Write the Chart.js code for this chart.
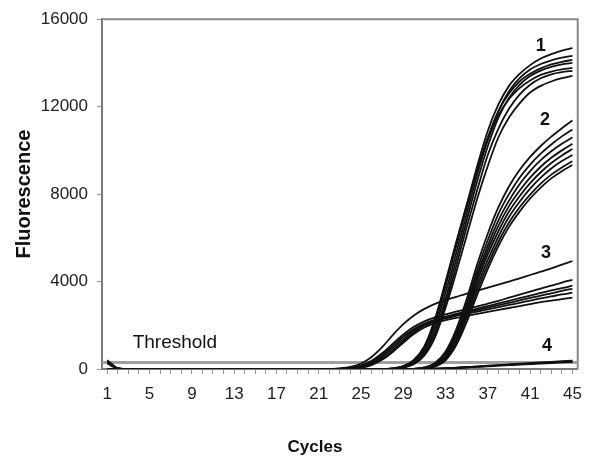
<!DOCTYPE html>
<html>
<head>
<meta charset="utf-8">
<script src="https://cdn.jsdelivr.net/npm/chart.js@4.4.1/dist/chart.umd.min.js"></script>
<style>
  html, body { margin: 0; padding: 0; background: #fff; }
  #wrap { width: 592px; height: 461px; }
</style>
</head>
<body>
<div id="wrap"><canvas id="grafico"></canvas></div>
<script>
// Ciclos e marcas do eixo X
const cycles = [1,2,3,4,5,6,7,8,9,10,11,12,13,14,15,16,17,18,19,20,21,22,23,24,25,26,27,28,29,30,31,32,33,34,35,36,37,38,39,40,41,42,43,44,45];
const xTickLabels = [1,5,9,13,17,21,25,29,33,37,41,45];
const yTicks = [0, 4000, 8000, 12000, 16000];
const threshold = 300;

// Grupo 1 (curvas mais altas)
const group1 = [
  [400,40,0,0,0, 0,0,0,0,0, 0,0,0,0,0, 0,0,0,0,0, 0,0,0,0,0, 0,0,30,120,400, 1000,2200,3900,5700,7500, 9300,10900,12100,12950,13500, 13900,14200,14400,14560,14680],
  [300,30,0,0,0, 0,0,0,0,0, 0,0,0,0,0, 0,0,0,0,0, 0,0,0,0,0, 0,0,20,100,330, 850,1900,3500,5300,7100, 8900,10500,11800,12700,13300, 13700,13950,14120,14240,14320],
  [0,0,0,0,0, 0,0,0,0,0, 0,0,0,0,0, 0,0,0,0,0, 0,0,0,0,0, 0,0,20,110,380, 950,2100,3800,5600,7400, 9100,10600,11800,12600,13150, 13500,13750,13930,14050,14140],
  [250,20,0,0,0, 0,0,0,0,0, 0,0,0,0,0, 0,0,0,0,0, 0,0,0,0,0, 0,0,10,80,280, 750,1700,3200,5000,6800, 8600,10200,11500,12400,13000, 13400,13650,13820,13930,14000],
  [0,0,0,0,0, 0,0,0,0,0, 0,0,0,0,0, 0,0,0,0,0, 0,0,0,0,0, 0,0,30,130,420, 1050,2300,4000,5800,7500, 9100,10500,11600,12350,12850, 13200,13450,13600,13700,13770],
  [0,0,0,0,0, 0,0,0,0,0, 0,0,0,0,0, 0,0,0,0,0, 0,0,0,0,0, 0,0,10,70,250, 700,1600,3000,4700,6500, 8200,9800,11000,11900,12550, 13000,13300,13480,13580,13640],
  [0,0,0,0,0, 0,0,0,0,0, 0,0,0,0,0, 0,0,0,0,0, 0,0,0,0,0, 0,0,10,60,220, 620,1450,2800,4400,6100, 7800,9300,10600,11500,12150, 12650,12950,13150,13300,13410]
];

// Grupo 2
const group2 = [
  [350,30,0,0,0, 0,0,0,0,0, 0,0,0,0,0, 0,0,0,0,0, 0,0,0,0,0, 0,0,0,0,10, 70,280,800,1800,3200, 4800,6200,7400,8350,9100, 9700,10200,10630,11010,11370],
  [0,0,0,0,0, 0,0,0,0,0, 0,0,0,0,0, 0,0,0,0,0, 0,0,0,0,0, 0,0,0,0,10, 60,240,700,1650,3000, 4550,5900,7100,8000,8750, 9350,9850,10270,10640,10960],
  [0,0,0,0,0, 0,0,0,0,0, 0,0,0,0,0, 0,0,0,0,0, 0,0,0,0,0, 0,0,0,0,0, 50,200,640,1550,2850, 4350,5650,6800,7700,8450, 9050,9550,9960,10300,10600],
  [0,0,0,0,0, 0,0,0,0,0, 0,0,0,0,0, 0,0,0,0,0, 0,0,0,0,0, 0,0,0,0,0, 40,180,600,1450,2750, 4200,5450,6550,7450,8150, 8750,9250,9660,10000,10300],
  [0,0,0,0,0, 0,0,0,0,0, 0,0,0,0,0, 0,0,0,0,0, 0,0,0,0,0, 0,0,0,0,0, 40,160,540,1350,2600, 4000,5250,6300,7200,7900, 8500,9000,9420,9770,10060],
  [0,0,0,0,0, 0,0,0,0,0, 0,0,0,0,0, 0,0,0,0,0, 0,0,0,0,0, 0,0,0,0,0, 30,150,500,1280,2480, 3800,5000,6050,6950,7650, 8250,8750,9170,9510,9790],
  [0,0,0,0,0, 0,0,0,0,0, 0,0,0,0,0, 0,0,0,0,0, 0,0,0,0,0, 0,0,0,0,0, 30,130,460,1180,2320, 3600,4780,5820,6700,7400, 7980,8480,8890,9220,9500],
  [0,0,0,0,0, 0,0,0,0,0, 0,0,0,0,0, 0,0,0,0,0, 0,0,0,0,0, 0,0,0,0,0, 20,110,400,1080,2150, 3400,4580,5620,6500,7200, 7800,8300,8720,9050,9330]
];

// Grupo 3 (sobe cedo, platô baixo)
const group3 = [
  [0,0,0,0,0, 0,0,0,0,0, 0,0,0,0,0, 0,0,0,0,0, 0,0,30,100,250, 550,1000,1550,2050,2450, 2750,2980,3150,3300,3450, 3580,3720,3860,4000,4150, 4300,4450,4600,4770,4940],
  [0,0,0,0,0, 0,0,0,0,0, 0,0,0,0,0, 0,0,0,0,0, 0,0,20,60,170, 380,720,1150,1580,1930, 2180,2360,2500,2620,2740, 2860,2990,3120,3260,3400, 3540,3680,3810,3950,4080],
  [0,0,0,0,0, 0,0,0,0,0, 0,0,0,0,0, 0,0,0,0,0, 0,0,10,40,130, 320,640,1050,1480,1830, 2080,2260,2400,2520,2640, 2760,2880,3000,3120,3240, 3360,3480,3600,3700,3810],
  [0,0,0,0,0, 0,0,0,0,0, 0,0,0,0,0, 0,0,0,0,0, 0,0,10,30,100, 260,560,950,1380,1760, 2040,2230,2370,2480,2590, 2700,2810,2920,3030,3140, 3250,3360,3460,3570,3670],
  [0,0,0,0,0, 0,0,0,0,0, 0,0,0,0,0, 0,0,0,0,0, 0,0,0,20,80, 220,480,850,1280,1680, 1980,2180,2320,2430,2530, 2630,2730,2830,2930,3030, 3130,3230,3320,3410,3490],
  [0,0,0,0,0, 0,0,0,0,0, 0,0,0,0,0, 0,0,0,0,0, 0,0,0,20,60, 180,420,780,1200,1600, 1900,2100,2240,2340,2430, 2520,2610,2700,2790,2880, 2970,3060,3130,3200,3260]
];

// Grupo 4 (quase sem amplificação)
const group4 = [
  [0,0,0,0,0, 0,0,0,0,0, 0,0,0,0,0, 0,0,0,0,0, 0,0,0,0,0, 0,0,0,0,0, 10,20,40,60,90, 120,150,180,210,240, 270,300,330,355,380],
  [0,0,0,0,0, 0,0,0,0,0, 0,0,0,0,0, 0,0,0,0,0, 0,0,0,0,0, 0,0,0,0,0, 10,20,30,50,80, 110,140,165,195,220, 250,275,300,325,350],
  [0,0,0,0,0, 0,0,0,0,0, 0,0,0,0,0, 0,0,0,0,0, 0,0,0,0,0, 0,0,0,0,0, 0,10,25,45,70, 95,120,150,175,200, 225,250,275,300,320]
];

const xMin = 0.5;
const xMax = 45.5;
const fonte = "'Liberation Sans', Arial, sans-serif";

// Monta os datasets a partir dos grupos
const curvas = [...group1, ...group2, ...group3, ...group4].map((serie) => ({
    data: serie,
    borderColor: "#111",
    borderWidth: 1.8,
    pointRadius: 0,
    fill: false,
    cubicInterpolationMode: "monotone"
}));

// Linha de threshold (desenhada por baixo das curvas)
curvas.push({
    data: [{ x: xMin, y: threshold }, { x: xMax, y: threshold }],
    borderColor: "#a0a0a0",
    borderWidth: 3,
    pointRadius: 0,
    fill: false
});

// Moldura, rótulos dos grupos e título do eixo X
const rotulos = {
    id: "rotulos",
    beforeDatasetsDraw(chart) {
        const { ctx, chartArea } = chart;
        ctx.save();
        ctx.strokeStyle = "#8a8a8a";
        ctx.lineWidth = 2;
        ctx.beginPath();
        ctx.moveTo(chartArea.left, chartArea.top);
        ctx.lineTo(chartArea.right, chartArea.top);
        ctx.lineTo(chartArea.right, chartArea.bottom);
        ctx.stroke();
        ctx.restore();
    },
    afterDatasetsDraw(chart) {
        const { ctx, scales } = chart;
        const x = scales.x, y = scales.y;
        ctx.save();
        ctx.fillStyle = "#111";
        ctx.textBaseline = "middle";
        ctx.textAlign = "center";
        ctx.font = "bold 18px " + fonte;
        [["1", 42, 14770], ["2", 42.4, 11370], ["3", 42.5, 5300], ["4", 42.6, 1040]].forEach(([t, cx, cy]) => {
            ctx.fillText(t, x.getPixelForValue(cx), y.getPixelForValue(cy));
        });
        ctx.textAlign = "left";
        ctx.font = "19px " + fonte;
        ctx.fillText("Threshold", x.getPixelForValue(3.4), y.getPixelForValue(1220));
        ctx.textAlign = "center";
        ctx.font = "bold 17px " + fonte;
        ctx.fillText("Cycles", 315, 447);
        ctx.restore();
    }
};

new Chart(document.getElementById("grafico"), {
    type: "line",
    data: {
        labels: cycles,
        datasets: curvas
    },
    options: {
        responsive: true,
        maintainAspectRatio: false,
        animation: false,
        layout: { padding: { top: 16, right: 11, left: 0, bottom: 0 } },
        plugins: {
            legend: { display: false },
            tooltip: { enabled: false }
        },
        scales: {
            x: {
                type: "linear",
                min: xMin,
                max: xMax,
                afterBuildTicks: (scale) => {
                    scale.ticks = cycles.map((v) => ({ value: v }));
                },
                afterFit: (scale) => { scale.height = 92; },
                ticks: {
                    autoSkip: false,
                    maxRotation: 0,
                    padding: 10,
                    color: "#222",
                    font: { family: fonte, size: 17 },
                    callback: (v) => (xTickLabels.includes(v) ? String(v) : "")
                },
                grid: { drawOnChartArea: false, drawTicks: true, tickLength: 5, color: "#999", lineWidth: 1 },
                border: { color: "#7a7a7a", width: 2 }
            },
            y: {
                min: 0,
                max: 16000,
                afterBuildTicks: (scale) => {
                    scale.ticks = yTicks.map((v) => ({ value: v }));
                },
                afterFit: (scale) => { scale.width = 102; },
                ticks: {
                    padding: 9,
                    color: "#222",
                    font: { family: fonte, size: 17 },
                    callback: (v) => String(v)
                },
                grid: { drawOnChartArea: false, drawTicks: true, tickLength: 5, color: "#999", lineWidth: 1 },
                border: { color: "#7a7a7a", width: 2 },
                title: {
                    display: true,
                    text: "Fluorescence",
                    color: "#111",
                    font: { family: fonte, size: 20, weight: "bold" },
                    padding: { top: 12, bottom: 0 }
                }
            }
        }
    },
    plugins: [rotulos]
});
</script>
</body>
</html>
